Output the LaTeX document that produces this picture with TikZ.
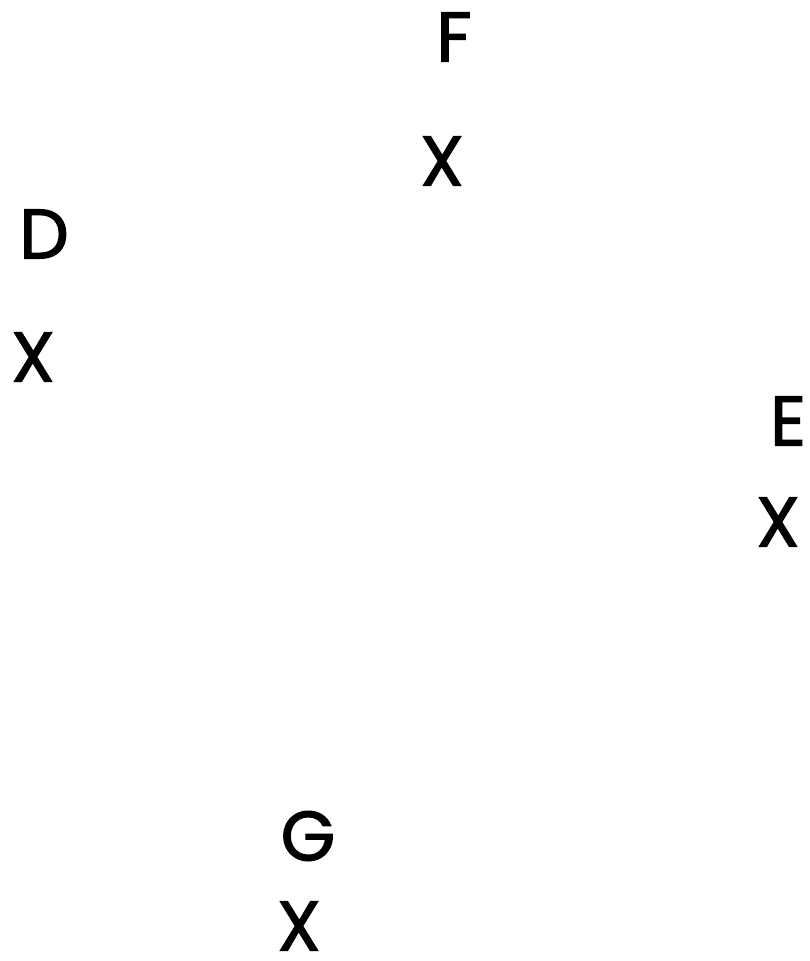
\documentclass[tikz,border=0pt]{standalone}
\usepackage{fontspec}
\setmainfont{Poppins}[FakeBold=1.8]
\tikzset{lbl/.style={inner sep=0pt, font=\fontsize{70}{70}\selectfont}}
\begin{document}
\begin{tikzpicture}[x=1pt,y=1pt]
\useasboundingbox (0,0) rectangle (810,961);
\node[lbl] (F) at (454,924) {F};
\node[lbl] (XF) at (442,800) {X};
\node[lbl] (D) at (44,727) {D};
\node[lbl] (XD) at (33,604) {X};
\node[lbl] (E) at (788,540) {E};
\node[lbl] (XE) at (778,439) {X};
\node[lbl] (G) at (308,125) {G};
\node[lbl] (XG) at (299,35) {X};
\end{tikzpicture}
\end{document}
